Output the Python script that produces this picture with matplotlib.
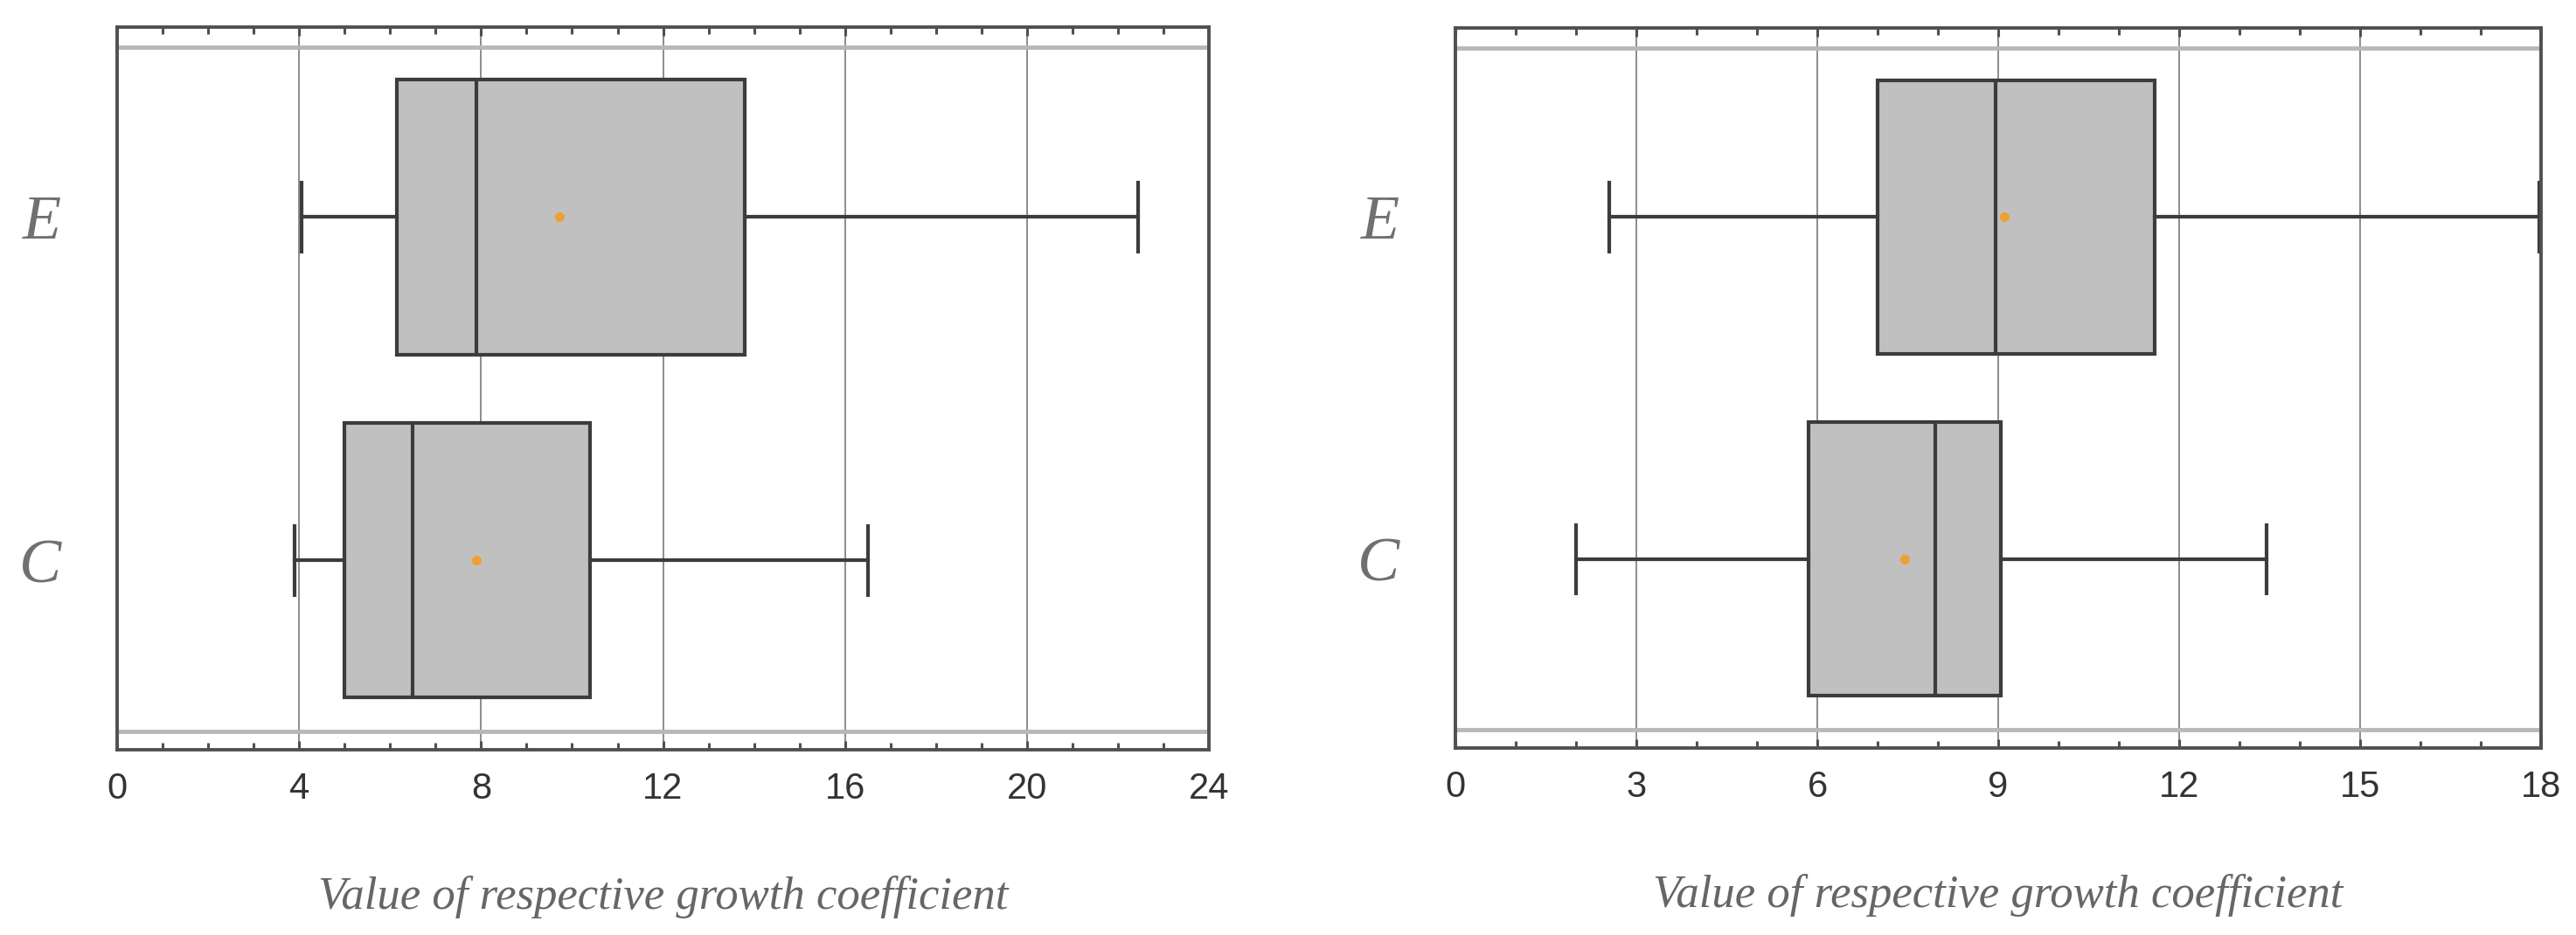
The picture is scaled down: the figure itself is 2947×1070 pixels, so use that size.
import numpy as np
import matplotlib.pyplot as plt
from matplotlib.ticker import MultipleLocator

GROUPS = ["C", "E"]
XLABEL = "Value of respective growth coefficient"

# left panel: box statistics for C and E
LEFT_WHISLO = [3.9, 4.05]
LEFT_Q1 = [5.0, 6.15]
LEFT_MED = [6.5, 7.9]
LEFT_Q3 = [10.4, 13.8]
LEFT_WHISHI = [16.5, 22.45]
LEFT_MEAN = [7.9, 9.72]
LEFT_XMAX, LEFT_STEP = 24, 4

# right panel
RIGHT_WHISLO = [2.0, 2.55]
RIGHT_Q1 = [5.85, 7.0]
RIGHT_MED = [7.95, 8.95]
RIGHT_Q3 = [9.05, 11.6]
RIGHT_WHISHI = [13.45, 17.97]
RIGHT_MEAN = [7.45, 9.1]
RIGHT_XMAX, RIGHT_STEP = 18, 3

EDGE = "#3c3c3c"
SPINE = "#505050"
YLIM = (0.448, 2.553)


def build_stats(whislo, q1, med, q3, whishi, mean):
    """Turns the read-off numbers into dicts for bxp."""
    stats = []
    for i in range(len(GROUPS)):
        stats.append({
            "label": GROUPS[i],
            "whislo": whislo[i],
            "q1": q1[i],
            "med": med[i],
            "q3": q3[i],
            "whishi": whishi[i],
            "mean": mean[i],
            "fliers": [],
        })
    return stats


def draw_panel(ax, stats, xmax, step):
    """Draws one horizontal box plot panel."""
    ax.bxp(
        stats,
        positions=[1, 2],
        widths=0.8,
        capwidths=0.2,
        orientation="horizontal",
        showmeans=True,
        patch_artist=True,
        boxprops=dict(facecolor="#c0c0c0", edgecolor=EDGE, linewidth=3.0),
        medianprops=dict(color=EDGE, linewidth=3.0),
        whiskerprops=dict(color=EDGE, linewidth=3.0),
        capprops=dict(color=EDGE, linewidth=3.0),
        meanprops=dict(marker="o", markersize=7, markerfacecolor="#eea033",
                       markeredgecolor="#eea033"),
    )

    ax.set_xlim(0, xmax)
    ax.set_ylim(*YLIM)
    ax.xaxis.set_major_locator(MultipleLocator(step))
    ax.xaxis.set_minor_locator(MultipleLocator(1))
    ax.grid(axis="x", which="major", color="#6e6e6e", linewidth=1.1)
    ax.set_axisbelow(True)

    # light double lines just inside the top and bottom frame
    for yy in (0.972, 0.975 - 0.95):
        ax.plot([0, 1], [yy, yy], transform=ax.transAxes,
                color="#b8b8b8", linewidth=3.5, zorder=1)

    for s in ax.spines.values():
        s.set_color(SPINE)
        s.set_linewidth(2.8)

    ax.tick_params(axis="x", which="both", direction="in", top=True,
                   bottom=True, color=SPINE, width=2.2)
    ax.tick_params(axis="x", which="major", length=7, pad=18,
                   labelsize=30, labelcolor="#333333")
    ax.tick_params(axis="x", which="minor", length=6)
    for lbl in ax.get_xticklabels():
        lbl.set_fontfamily("Liberation Sans")

    ax.set_yticks([1, 2], GROUPS)
    ax.tick_params(axis="y", length=0, pad=46, labelsize=52,
                   labelcolor="#707070")
    for lbl in ax.get_yticklabels():
        lbl.set_fontfamily("Liberation Serif")
        lbl.set_fontstyle("italic")

    ax.set_xlabel(XLABEL, fontsize=38, fontstyle="italic",
                  family="Liberation Serif", color="#666666", labelpad=57)


def main():
    """Main function."""
    fig = plt.figure(figsize=(29.47, 10.70), dpi=100)
    ax1 = fig.add_axes([0.0455, 0.198, 0.4238, 0.7729])
    ax2 = fig.add_axes([0.565, 0.200, 0.4214, 0.7701])

    draw_panel(ax1, build_stats(LEFT_WHISLO, LEFT_Q1, LEFT_MED, LEFT_Q3,
                                LEFT_WHISHI, LEFT_MEAN), LEFT_XMAX, LEFT_STEP)
    draw_panel(ax2, build_stats(RIGHT_WHISLO, RIGHT_Q1, RIGHT_MED, RIGHT_Q3,
                                RIGHT_WHISHI, RIGHT_MEAN), RIGHT_XMAX, RIGHT_STEP)

    fig.savefig("out.png", dpi=100)


if __name__ == "__main__":
    main()
